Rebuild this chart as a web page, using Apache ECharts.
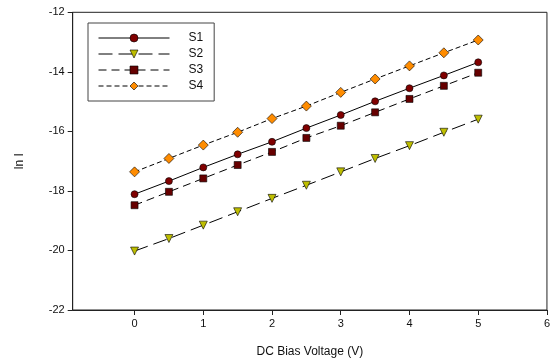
<!DOCTYPE html>
<html><head><meta charset="utf-8">
<script src="https://cdn.jsdelivr.net/npm/echarts@6/dist/echarts.min.js"></script>
<style>html,body{margin:0;padding:0;background:#fff}#c{width:553px;height:364px}</style>
</head><body><div id="c"></div>
<script>
const xValues = [0, 0.5, 1, 1.5, 2, 2.5, 3, 3.5, 4, 4.5, 5];
const s1 = [-18.11, -17.67, -17.21, -16.77, -16.35, -15.89, -15.45, -14.99, -14.55, -14.12, -13.68];
const s2 = [-20.02, -19.60, -19.15, -18.70, -18.25, -17.81, -17.36, -16.91, -16.48, -16.03, -15.59];
const s3 = [-18.48, -18.03, -17.58, -17.13, -16.69, -16.22, -15.81, -15.36, -14.91, -14.47, -14.03];
const s4 = [-17.36, -16.91, -16.46, -16.03, -15.57, -15.15, -14.69, -14.24, -13.80, -13.36, -12.93];
const xTicks = [0, 1, 2, 3, 4, 5, 6];
const seriesNames = ['S1', 'S2', 'S3', 'S4'];

const font = '"Liberation Sans", Arial, sans-serif';
function pairs(arr){ return xValues.map((x,i)=>[x, arr[i]]); }
const styles = [
  {data:s1, symbol:'circle', size:7, color:'#800000', type:'solid', rotate:0},
  {data:s2, symbol:'triangle', size:8, color:'#BEBE00', type:[14,6], rotate:180},
  {data:s3, symbol:'rect', size:7, color:'#660000', type:[8,5], rotate:0},
  {data:s4, symbol:'diamond', size:10, color:'#FF8C00', type:[5,3], rotate:0}
];
const chart = echarts.init(document.getElementById('c'), null, {renderer:'canvas'});
chart.setOption({
  animation:false,
  grid:{left:72.7, right:3.7, top:12.3, bottom:54, show:true, borderColor:'#222', borderWidth:1, backgroundColor:'transparent'},
  legend:{
    orient:'vertical', left:88, top:23,
    padding:[9,11,9,10], itemGap:4, itemWidth:71, itemHeight:10,
    borderColor:'#444', borderWidth:1,
    lineStyle:{width:1},
    itemStyle:{borderWidth:0.6, borderColor:'#000'},
    textStyle:{fontFamily:font, fontSize:12, color:'#111', padding:[0,0,0,14]},
    data:seriesNames
  },
  xAxis:{
    type:'value', min:-0.9, max:6,
    name:'DC Bias Voltage (V)', nameLocation:'middle', nameGap:36,
    nameTextStyle:{fontFamily:font, fontSize:12, color:'#111'},
    axisLine:{show:true, onZero:false, lineStyle:{color:'#222', width:1}},
    axisTick:{show:true, inside:false, length:5, customValues:xTicks, lineStyle:{color:'#222'}},
    axisLabel:{customValues:xTicks, fontFamily:font, fontSize:11, color:'#111', margin:8},
    splitLine:{show:false}
  },
  yAxis:{
    type:'value', min:-22, max:-12, interval:2,
    name:'ln I', nameLocation:'middle', nameGap:47, nameRotate:90,
    nameTextStyle:{fontFamily:font, fontSize:12, color:'#111'},
    axisLine:{show:true, onZero:false, lineStyle:{color:'#222', width:1}},
    axisTick:{show:true, inside:false, length:5, lineStyle:{color:'#222'}},
    axisLabel:{fontFamily:font, fontSize:11, color:'#111', margin:8},
    splitLine:{show:false}
  },
  series: styles.map((s,i)=>({
    name:seriesNames[i], type:'line', data:pairs(s.data),
    symbol:s.symbol, symbolSize:s.size, symbolRotate:s.rotate, showSymbol:true,
    lineStyle:{color:'#000', width:1, type:s.type},
    itemStyle:{color:s.color, borderColor:'#000', borderWidth:0.6},
    z: 2 + i
  }))
});
</script></body></html>
